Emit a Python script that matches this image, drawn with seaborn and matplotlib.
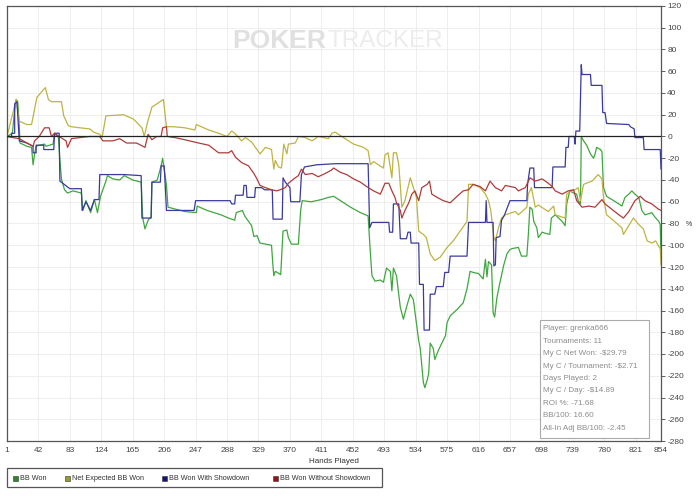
import matplotlib
matplotlib.use("Agg")
import matplotlib.pyplot as plt
import seaborn as sns
from matplotlib.patches import Rectangle

# ---- data (hand number, big blinds) ----
won_hands = [1, 8, 11, 13, 15, 17, 18, 27, 33, 35, 37, 39, 43, 50, 52, 61, 63, 68, 70, 72,
             76, 80, 87, 98, 100, 104, 110, 115, 119, 123, 130, 132, 139, 148, 154, 165, 176, 178, 181, 185,
             189, 190, 197, 202, 204, 209, 211, 222, 233, 248, 249, 262, 280, 290, 298, 300, 308, 311, 320, 323,
             327, 331, 346, 348, 349, 351, 358, 361, 366, 368, 372, 381, 384, 386, 398, 411, 420, 427, 436, 449,
             462, 472, 475, 477, 481, 488, 492, 496, 501, 503, 505, 509, 514, 518, 522, 527, 531, 538, 540, 544,
             546, 549, 551, 553, 557, 559, 564, 573, 575, 579, 588, 596, 601, 605, 609, 616, 622, 625, 627, 629,
             633, 635, 637, 640, 644, 649, 653, 657, 660, 668, 672, 679, 681, 683, 686, 688, 692, 694, 699, 703,
             709, 711, 716, 725, 729, 731, 735, 740, 744, 746, 749, 750, 753, 757, 762, 766, 768, 770, 775, 777,
             779, 783, 790, 799, 803, 807, 812, 816, 820, 825, 829, 833, 838, 842, 846, 851, 853, 854]
won_vals = [0, 3, 25, 34, 32, 10, -6, -9, -10, -26, -16, -9, -8, -7, -9, -7, 2, 0, -22, -39,
            -49, -52, -50, -52, -68, -59, -70, -58, -70, -55, -41, -36, -39, -40, -36, -40, -42, -75, -85, -77,
            -74, -42, -40, -27, -20, -45, -65, -67, -69, -70, -64, -68, -72, -75, -77, -70, -68, -73, -82, -92,
            -91, -98, -100, -120, -128, -124, -127, -87, -86, -93, -99, -99, -68, -59, -60, -58, -56, -55, -59, -65,
            -70, -73, -108, -128, -133, -132, -134, -121, -124, -142, -121, -128, -157, -168, -157, -145, -150, -188, -195, -226,
            -231, -224, -218, -190, -195, -205, -196, -183, -171, -165, -159, -153, -140, -124, -125, -126, -131, -113, -129, -115,
            -118, -162, -166, -148, -134, -118, -108, -104, -103, -102, -110, -110, -90, -65, -67, -78, -84, -93, -88, -89,
            -90, -75, -72, -78, -82, -62, -50, -52, -53, -59, -62, 0, -4, -8, -16, -20, -16, -10, -12, -14,
            -47, -55, -58, -62, -64, -56, -53, -50, -53, -56, -68, -72, -71, -70, -74, -78, -81, -110]

exp_hands = [1, 13, 17, 27, 33, 40, 51, 55, 59, 72, 75, 81, 85, 96, 109, 114, 122, 125, 130, 153,
             166, 177, 180, 185, 190, 205, 209, 218, 233, 246, 248, 264, 277, 288, 294, 298, 307, 312, 320, 325,
             331, 338, 346, 349, 351, 355, 359, 362, 366, 368, 377, 381, 390, 399, 407, 420, 425, 429, 440, 453,
             466, 472, 475, 479, 492, 494, 498, 503, 505, 509, 512, 516, 520, 527, 531, 535, 538, 544, 548, 553,
             559, 566, 575, 583, 592, 601, 603, 609, 618, 625, 629, 632, 636, 638, 642, 646, 651, 664, 668, 679,
             681, 685, 690, 694, 707, 714, 716, 729, 731, 736, 742, 746, 749, 753, 764, 768, 772, 777, 779, 783,
             790, 803, 805, 812, 818, 825, 831, 836, 842, 847, 851, 853, 854]
exp_vals = [0, 34, 14, 11, 11, 36, 45, 34, 32, 32, 19, 10, 9, 8, 7, 4, 2, -1, 19, 20,
            16, 8, 0, 15, 27, 34, 9, 9, 8, 6, 11, 6, 3, 0, 5, 3, -4, -1, -5, -10,
            -16, -10, -12, -30, -22, -28, -29, -7, -16, -7, -6, 0, -1, -4, 0, -2, 3, 4, -1, -7,
            -10, -13, -26, -23, -29, -17, -15, -38, -15, -15, -26, -65, -59, -38, -47, -56, -87, -90, -93, -108,
            -114, -111, -102, -96, -87, -78, -44, -44, -47, -53, -59, -68, -93, -96, -84, -75, -72, -69, -72, -65,
            -53, -47, -65, -63, -69, -64, -72, -75, -53, -50, -49, -47, -59, -44, -41, -38, -35, -39, -56, -72,
            -76, -84, -90, -82, -75, -81, -85, -96, -98, -96, -101, -103, -118]

sd_hands = [1, 7, 7, 11, 11, 14, 17, 27, 35, 35, 39, 39, 49, 49, 62, 63, 69, 70, 83, 98,
            99, 104, 110, 115, 121, 122, 154, 176, 177, 189, 190, 201, 202, 206, 207, 209, 245, 247, 292, 294,
            298, 299, 309, 310, 313, 314, 324, 325, 333, 337, 347, 348, 360, 361, 364, 370, 371, 383, 385, 389,
            405, 430, 472, 474, 477, 499, 500, 504, 505, 512, 514, 522, 524, 527, 528, 538, 539, 544, 545, 552,
            553, 559, 561, 570, 572, 577, 578, 579, 601, 603, 625, 626, 627, 635, 636, 638, 639, 644, 646, 650,
            657, 679, 680, 683, 688, 689, 712, 713, 729, 730, 733, 734, 741, 742, 743, 748, 750, 751, 762, 763,
            777, 778, 781, 783, 812, 814, 819, 820, 831, 832, 853, 854]
sd_vals = [0, 0, 3, 3, 30, 32, -4, -6, -9, -15, -15, -8, -8, -12, -12, 3, 3, -41, -48, -48,
           -68, -60, -68, -58, -58, -35, -35, -36, -75, -75, -42, -42, -27, -27, -40, -68, -68, -59, -59, -62,
           -62, -54, -54, -45, -45, -56, -56, -47, -47, -49, -49, -76, -76, -38, -42, -47, -60, -60, -35, -28,
           -26, -25, -25, -84, -79, -79, -88, -88, -62, -62, -94, -94, -88, -88, -98, -98, -136, -136, -178, -178,
           -145, -145, -138, -138, -125, -125, -118, -110, -110, -79, -79, -59, -79, -79, -119, -118, -93, -92, -77, -72,
           -59, -59, -44, -29, -29, -47, -47, -28, -28, -10, -10, 0, 0, -7, 5, 5, 66, 57, 57, 47,
           47, 22, 22, 12, 11, 9, 7, -1, -1, -12, -12, -30]

nsd_hands = [1, 17, 27, 35, 37, 43, 50, 56, 59, 63, 69, 78, 80, 85, 96, 109, 122, 126, 139, 148,
             157, 170, 181, 185, 190, 196, 202, 204, 209, 210, 220, 233, 251, 264, 277, 290, 294, 299, 307, 316,
             323, 327, 331, 338, 346, 353, 357, 364, 368, 375, 381, 385, 390, 399, 407, 416, 424, 427, 436, 444,
             453, 462, 470, 479, 488, 494, 499, 503, 507, 509, 514, 516, 520, 525, 529, 533, 538, 542, 549, 552,
             555, 562, 570, 579, 588, 596, 603, 609, 618, 625, 631, 638, 646, 651, 664, 668, 677, 683, 690, 699,
             707, 712, 716, 725, 733, 740, 744, 751, 760, 768, 777, 781, 790, 799, 805, 812, 820, 827, 833, 842,
             851, 854]
nsd_vals = [0, -2, -6, -9, -4, 0, 8, 8, 0, 3, 0, -4, -10, -2, -1, 0, 0, -4, -4, -2,
            -6, -6, -10, 2, -3, 0, 0, 8, 9, 0, -1, -3, -6, -8, -15, -15, -13, -19, -24, -27,
            -34, -39, -45, -47, -49, -50, -49, -47, -43, -39, -36, -30, -35, -34, -37, -34, -31, -29, -33, -35,
            -39, -42, -46, -50, -53, -43, -43, -50, -56, -61, -68, -75, -68, -61, -53, -50, -59, -47, -44, -41,
            -53, -56, -59, -61, -55, -50, -49, -44, -46, -50, -41, -47, -50, -45, -47, -50, -47, -38, -41, -39,
            -43, -46, -50, -53, -50, -49, -59, -65, -64, -65, -58, -62, -67, -72, -75, -69, -59, -55, -59, -62,
            -67, -68]

series = [
    ("BB Won", won_hands, won_vals, "#3fa63f", "#2a8a2a"),
    ("Net Expected BB Won", exp_hands, exp_vals, "#bdb441", "#9a9a2a"),
    ("BB Won With Showdown", sd_hands, sd_vals, "#3a3a9e", "#12127a"),
    ("BB Won Without Showdown", nsd_hands, nsd_vals, "#b03b3b", "#9a1212"),
]

stats = ["Player: grenka666", "Tournaments: 11", "My C Net Won: -$29.79",
         "My C / Tournament: -$2.71", "Days Played: 2", "My C / Day: -$14.89",
         "ROI %: -71.68", "BB/100: 16.60", "All-In Adj BB/100: -2.45"]

x_ticks = list(range(1, 822, 41)) + [854]
y_ticks = list(range(-280, 121, 20))

sns.set_style("white")
plt.rcParams['font.family'] = ['Liberation Sans', 'DejaVu Sans']
plt.rcParams['axes.unicode_minus'] = False

W, H = 700, 496
fig = plt.figure(figsize=(W / 100, H / 100), dpi=100)
ax = fig.add_axes([7 / W, 1 - 441 / H, 654 / W, 435 / H])

for name, hx, hy, col, _ in series:
    sns.lineplot(x=hx, y=hy, ax=ax, color=col, lw=0.9, estimator=None, sort=False)

ax.axhline(0, color="#222222", lw=0.9, zorder=5)

ax.set_xlim(1, 854)
ax.set_ylim(-280, 120)
ax.set_xticks(x_ticks)
ax.set_yticks(y_ticks)
ax.yaxis.tick_right()
ax.grid(True, color="#ebebeb", lw=0.6)
ax.tick_params(axis="both", direction="out", length=3, width=0.6, pad=1.5,
               labelsize=6, colors="#444444")
for s in ax.spines.values():
    s.set_color("#555555")
    s.set_linewidth(0.9)
ax.set_xlabel("Hands Played", fontsize=5.8, color="#333333", labelpad=3)

def fx(px):
    return px / W

def fy(py):
    return 1 - py / H

# watermark
fig.text(fx(326), fy(41), "POKER", ha="right", va="center", fontsize=19,
         fontweight="bold", color="#e0e0e0", zorder=1)
fig.text(fx(328), fy(41), "TRACKER", ha="left", va="center", fontsize=17.5,
         color="#ececec", zorder=1)

fig.text(fx(689), fy(225), "%", ha="center", va="center", fontsize=5, color="#333333")

# stats box
fig.add_artist(Rectangle((fx(540), fy(438)), 109 / W, 118 / H, transform=fig.transFigure,
                         facecolor="white", edgecolor="#aaaaaa", lw=0.8, zorder=6))
for i, line in enumerate(stats):
    fig.text(fx(543), fy(329 + i * 12.4), line, ha="left", va="center", fontsize=5.8,
             color="#8c8c8c", zorder=7)

# legend
fig.add_artist(Rectangle((fx(7), fy(487)), 375 / W, 19 / H, transform=fig.transFigure,
                         facecolor="white", edgecolor="#555555", lw=0.9, zorder=6))
leg_x = [13, 65, 162, 273]
for (name, _, _, _, sq), lx in zip(series, leg_x):
    fig.add_artist(Rectangle((fx(lx), fy(481)), 5 / W, 5 / H, transform=fig.transFigure,
                             facecolor=sq, edgecolor="#333333", lw=0.4, zorder=7))
    fig.text(fx(lx + 7), fy(478.5), name, ha="left", va="center", fontsize=5.2,
             color="#333333", zorder=7)

fig.savefig("out.png", dpi=100)
